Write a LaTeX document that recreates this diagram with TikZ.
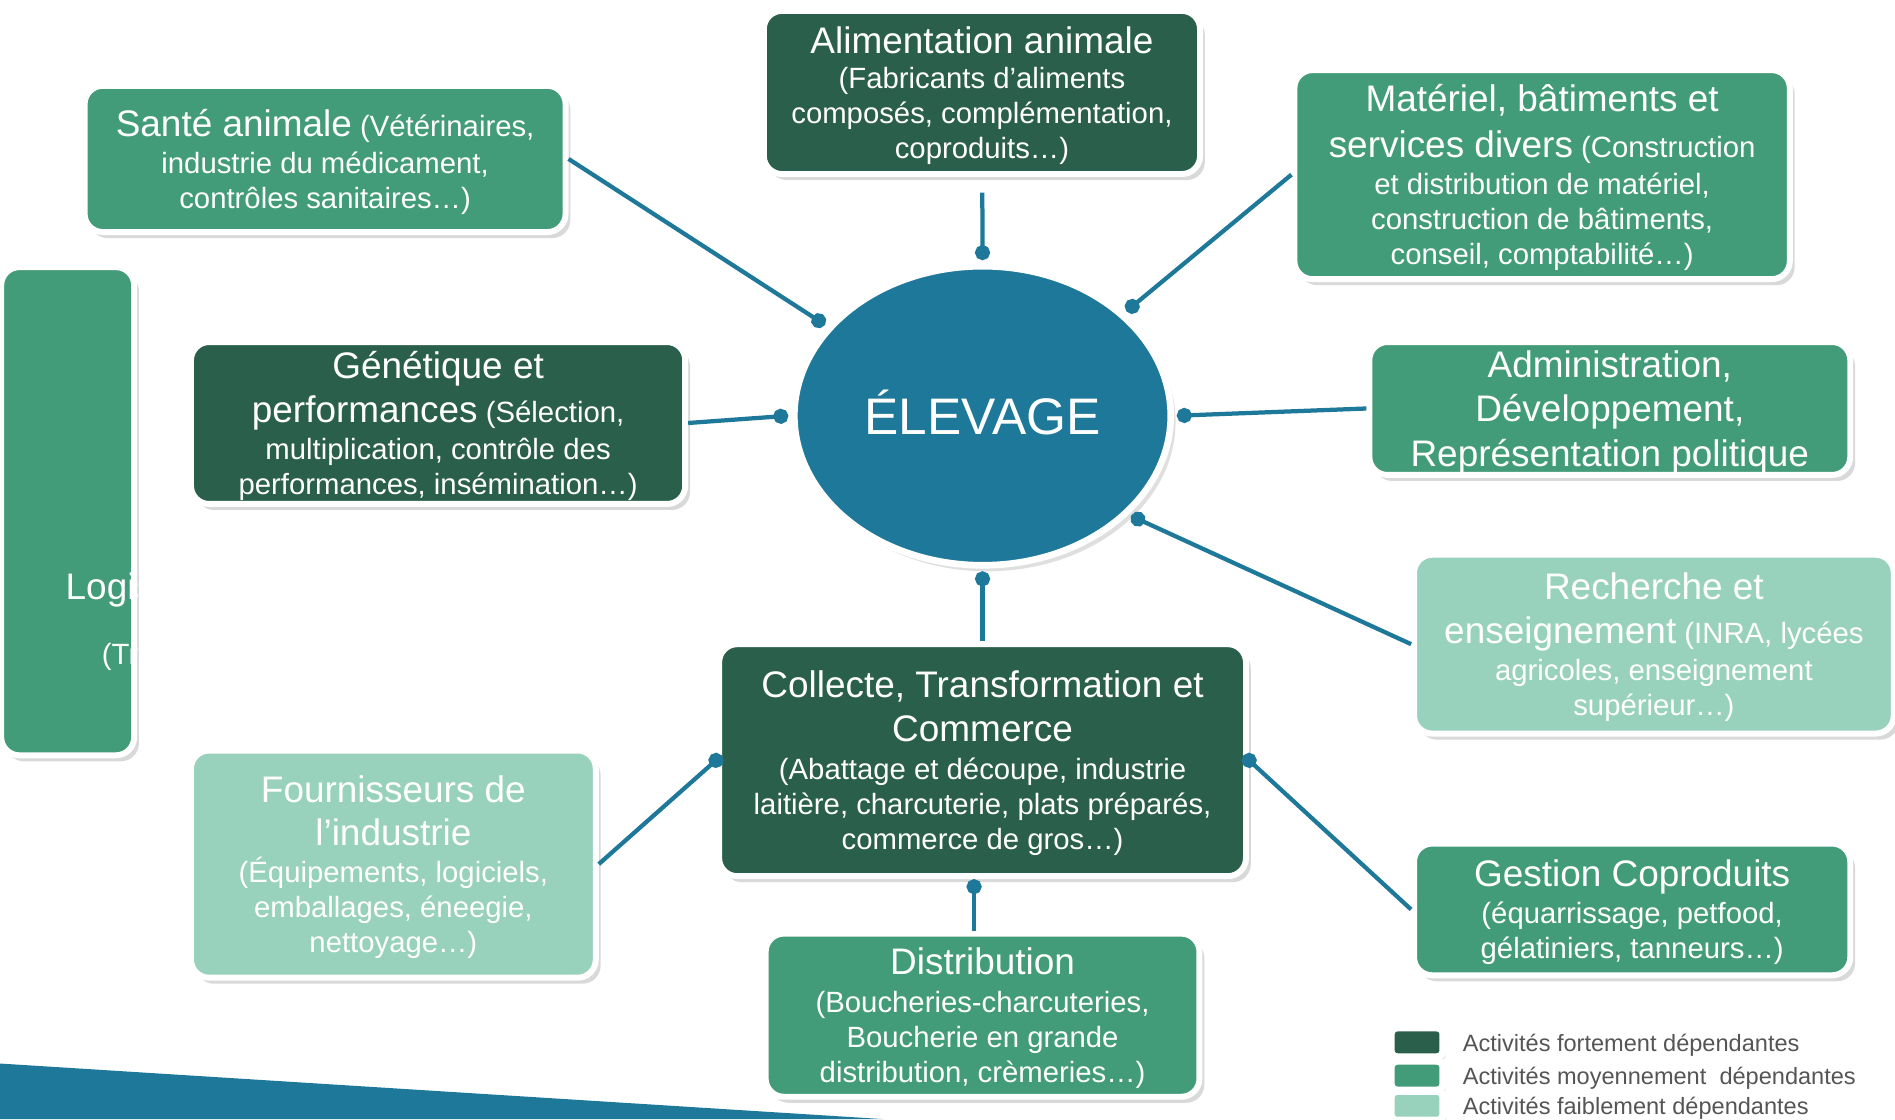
\documentclass[tikz,border=0pt]{standalone}
\usepackage{fontspec}
\setmainfont{Liberation Sans}
\usepackage{xcolor}
\usepackage{tikz}
\usetikzlibrary{shapes,arrows.meta,shadows}
\definecolor{darkgreen}{RGB}{42,95,75}
\definecolor{midgreen}{RGB}{67,156,121}
\definecolor{lightgreen}{RGB}{152,210,188}
\definecolor{elevblue}{RGB}{30,120,153}
\definecolor{legendgray}{RGB}{85,85,85}
\newcommand{\ttl}{\fontsize{17.4}{21}\selectfont}
\newcommand{\subtxt}{\fontsize{13.8}{16.5}\selectfont}

\begin{document}
\begin{tikzpicture}[x=0.02cm, y=-0.02cm]
    \tikzstyle{sector} = [rectangle, rounded corners=0.3cm, draw=white, line width=2.8pt, text=white, align=center, inner sep=1pt, font=\subtxt, text depth=0pt, drop shadow={shadow xshift=0.8mm, shadow yshift=-1mm, opacity=0.3}]
    \tikzstyle{strongdep} = [sector, fill=darkgreen]
    \tikzstyle{meddep} = [sector, fill=midgreen]
    \tikzstyle{weakdep} = [sector, fill=lightgreen]
    \tikzstyle{link} = [draw=elevblue, line width=2pt, -{Circle[length=0.25cm]}]
    \tikzstyle{legendbox} = [rectangle, rounded corners=0.1cm, draw=white, line width=3.4pt, minimum width=0.86cm, minimum height=0.48cm, drop shadow={shadow xshift=0.5mm, shadow yshift=-0.6mm, opacity=0.25}]
    \tikzstyle{legendtext} = [anchor=base west, inner sep=0pt, text=legendgray, font=\fontsize{11.1}{13}\selectfont]

    \useasboundingbox (0,0) rectangle (1568,926);

    % Bottom band
    \fill[elevblue] (0,880) -- (731,926) -- (0,926) -- cycle;

    % Centre
    \node [ellipse, fill=elevblue, draw=white, line width=0.11cm, minimum width=6.23cm, minimum height=4.95cm, outer sep=0.1cm, text=white, font=\fontsize{24.2}{29}\selectfont, text height=17.3pt, text depth=0pt, drop shadow={shadow xshift=0.8mm, shadow yshift=-1mm, opacity=0.25}] (elevage) at (813,344) {ÉLEVAGE};

    % Sectors
    \node [strongdep, minimum width=7.22cm, minimum height=2.70cm] (alim) at (812.5,76.5) {{\ttl Alimentation animale}\\ (Fabricants d’aliments\\ composés, complémentation,\\ coproduits…)};
    \node [meddep, minimum width=7.96cm, minimum height=2.42cm] (sante) at (269,131.5) {{\ttl Santé animale} (Vétérinaires,\\[1pt] industrie du médicament,\\ contrôles sanitaires…)};
    \node [meddep, minimum width=8.20cm, minimum height=3.46cm] (materiel) at (1276,144.5) {{\ttl Matériel, bâtiments et}\\[5pt] {\ttl services divers} (Construction\\[1pt] et distribution de matériel,\\ construction de bâtiments,\\ conseil, comptabilité…)};
    \node [meddep, minimum width=2.20cm, minimum height=8.08cm] (logistique) at (56,423) {};
    \node [strongdep, minimum width=8.18cm, minimum height=2.68cm] (genetique) at (362.5,350) {{\ttl Génétique et}\\[4.5pt] {\ttl performances} (Sélection,\\[1pt] multiplication, contrôle des\\ performances, insémination…)};
    \node [meddep, font=\ttl, minimum width=7.96cm, minimum height=2.20cm] (admin) at (1332,338) {Administration,\\ Développement,\\ Représentation politique};
    \node [weakdep, minimum width=7.94cm, minimum height=2.96cm] (recherche) at (1368.5,533) {{\ttl Recherche et}\\[4pt] {\ttl enseignement} (INRA, lycées\\[1pt] agricoles, enseignement\\ supérieur…)};
    \node [strongdep, minimum width=8.72cm, minimum height=3.84cm] (collecte) at (813,629) {{\ttl Collecte, Transformation et}\\[4pt] {\ttl Commerce}\\[1.5pt] (Abattage et découpe, industrie\\ laitière, charcuterie, plats préparés,\\ commerce de gros…)};
    \node [weakdep, minimum width=6.70cm, minimum height=3.76cm] (fournisseurs) at (325.5,715) {{\ttl Fournisseurs de}\\[4pt] {\ttl l’industrie}\\[1pt] (Équipements, logiciels,\\ emballages, éneegie,\\ nettoyage…)};
    \node [meddep, minimum width=7.18cm, minimum height=2.70cm] (distribution) at (813,840) {{\ttl Distribution}\\[1pt] (Boucheries-charcuteries,\\ Boucherie en grande\\ distribution, crèmeries…)};
    \node [meddep, minimum width=7.22cm, minimum height=2.18cm] (gestion) at (1350.5,752.5) {{\ttl Gestion Coproduits}\\[1pt] (équarrissage, petfood,\\ gélatiniers, tanneurs…)};

    % Cut-off text of the left box
    \begin{scope}
        \clip [rounded corners=0.3cm] (logistique.south west) rectangle (logistique.north east);
        \node [anchor=base west, inner sep=0pt, text=white, font=\ttl] (logtitle) at (54,496) {Logis};
        \node [anchor=base west, inner sep=0pt, text=white, font=\subtxt] (logsub) at (84,550) {(Tra};
    \end{scope}

    % Links
    \draw [link, shorten <=0.26cm] (alim) -- (elevage.north);
    \draw [link] (sante.east) -- (elevage.150);
    \draw [link] (materiel.west) -- (elevage.36.5);
    \draw [link] (genetique.east) -- (elevage.west);
    \draw [link] (admin.west) -- (elevage.east);
    \draw [link] (recherche.west) -- (elevage.326.5);
    \draw [link] (collecte.north) -- (elevage.south);
    \draw [link, shorten >=-0.12cm] (fournisseurs.east) -- (collecte.west);
    \draw [link, shorten >=-0.12cm] (gestion.west) -- (collecte.east);
    \draw [link] ([xshift=-0.14cm]distribution.north) -- ([xshift=-0.14cm]collecte.south);

    % Legend
    \node [legendbox, fill=darkgreen] (legstrong) at (1172.5,862.5) {};
    \node [legendbox, fill=midgreen] (legmed) at (1172.5,890) {};
    \node [legendbox, fill=lightgreen] (legweak) at (1172.5,915) {};
    \node [legendtext] (legstrongtxt) at (1210,870) {Activités fortement dépendantes};
    \node [legendtext] (legmedtxt) at (1210,897) {Activités moyennement\ \ dépendantes};
    \node [legendtext] (legweaktxt) at (1210,922) {Activités faiblement dépendantes};
\end{tikzpicture}
\end{document}
